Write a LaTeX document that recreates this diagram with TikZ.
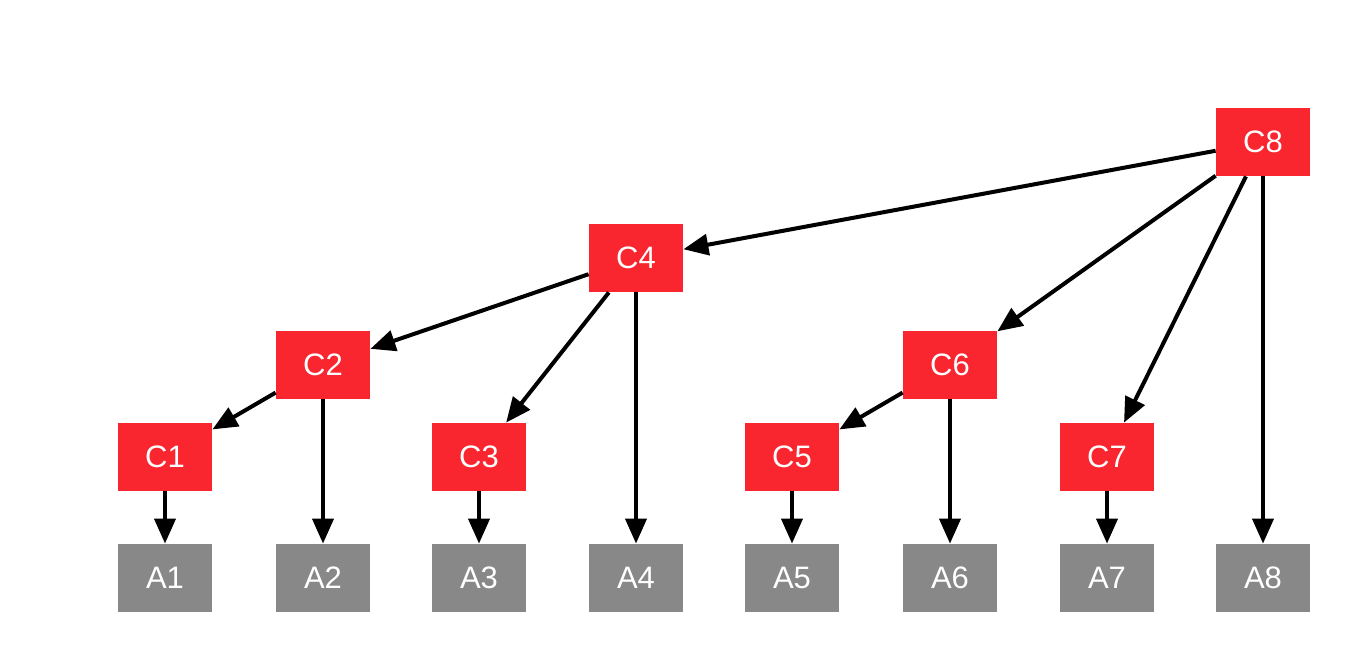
\documentclass[tikz,border=0pt]{standalone}
\usepackage{fontspec}
\setmainfont{Liberation Sans}
\usetikzlibrary{arrows.meta}
\definecolor{cred}{HTML}{F9252F}
\definecolor{agray}{HTML}{888888}
\begin{document}
\begin{tikzpicture}[x=0.5pt,y=-0.5pt,
	box/.style={rectangle,minimum width=47pt,minimum height=34pt,inner sep=0pt,text=white,font=\fontsize{15.5}{18}\selectfont},
	cbox/.style={box,fill=cred},
	abox/.style={box,fill=agray},
	link/.style={line width=2pt,-{Triangle[length=12.5pt,width=10.5pt]}}]
		\useasboundingbox (0,0) rectangle (1360,650);
		\node[cbox] (c8) at (1263,142) {C8};
		\node[cbox] (c4) at (636,258) {C4};
		\node[cbox] (c2) at (323,365) {C2};
		\node[cbox] (c6) at (950,365) {C6};
		\node[cbox] (c1) at (165,457) {C1};
		\node[cbox] (c3) at (479,457) {C3};
		\node[cbox] (c5) at (792,457) {C5};
		\node[cbox] (c7) at (1107,457) {C7};
		\node[abox] (a1) at (165,578) {A1};
		\node[abox] (a2) at (323,578) {A2};
		\node[abox] (a3) at (479,578) {A3};
		\node[abox] (a4) at (636,578) {A4};
		\node[abox] (a5) at (792,578) {A5};
		\node[abox] (a6) at (950,578) {A6};
		\node[abox] (a7) at (1107,578) {A7};
		\node[abox] (a8) at (1263,578) {A8};
		\foreach\s/\t in {c8/c4,c8/c6,c8/c7,c8/a8,c4/c2,c4/c3,c4/a4,c2/c1,c2/a2,c6/c5,c6/a6,c1/a1,c3/a3,c5/a5,c7/a7} {
			\draw[link] (\s)--(\t);
		}
	\end{tikzpicture}
\end{document}
